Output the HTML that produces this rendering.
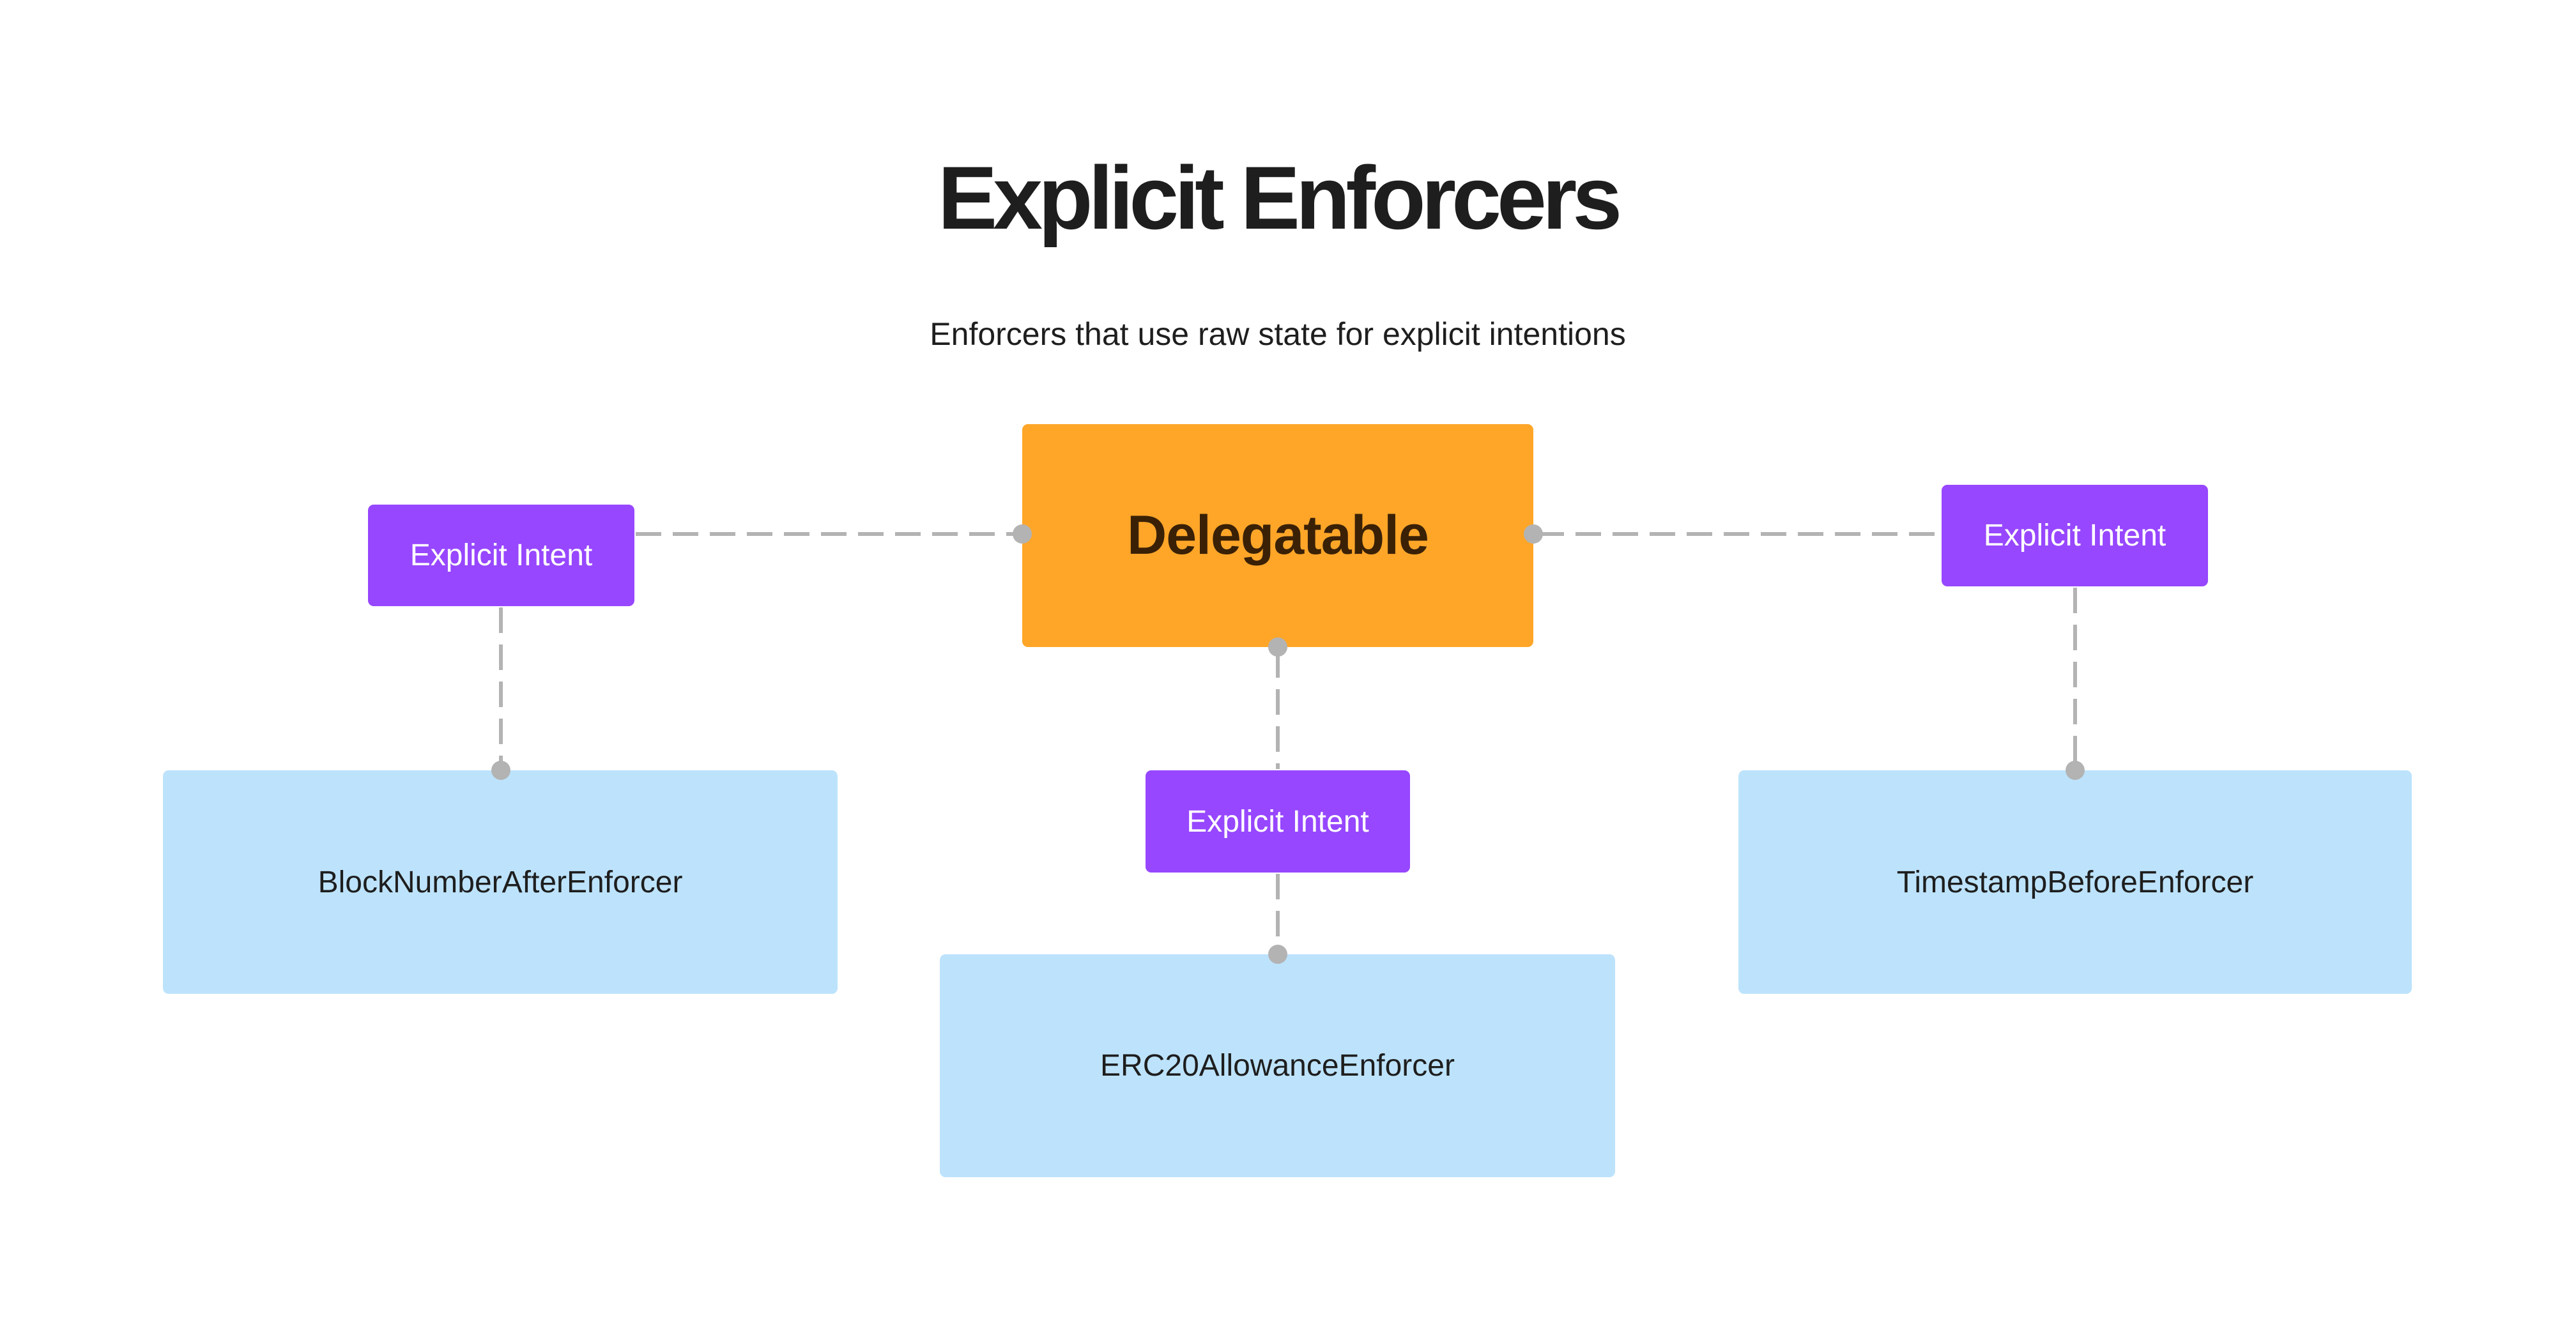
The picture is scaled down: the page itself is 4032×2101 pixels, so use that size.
<!DOCTYPE html>
<html><head><meta charset="utf-8"><style>
html,body{margin:0;padding:0;background:#fff;}
body{width:4032px;height:2101px;position:relative;overflow:hidden;font-family:"Liberation Sans",sans-serif;}
.b{position:absolute;display:flex;align-items:center;justify-content:center;border-radius:9px;}
.p{background:#9747ff;color:#fff;font-size:48px;}
.l{background:#bde3fc;color:#1e1e1e;font-size:48px;}
</style></head><body>
<div style="position:absolute;left:0;width:4000px;top:225px;text-align:center;font-size:140px;font-weight:bold;color:#1e1e1e;letter-spacing:-7px;line-height:170px;">Explicit Enforcers</div>
<div style="position:absolute;left:0;width:4000px;top:493px;text-align:center;font-size:50px;color:#1e1e1e;line-height:60px;">Enforcers that use raw state for explicit intentions</div>
<div class="b" style="left:1600px;top:664px;width:800px;height:349px;background:#ffa629;color:#3a2106;font-size:86px;font-weight:bold;letter-spacing:-1px;">Delegatable</div>
<div class="b p" style="left:576px;top:790px;width:417px;height:159px;">Explicit Intent</div>
<div class="b p" style="left:3039px;top:759px;width:417px;height:159px;">Explicit Intent</div>
<div class="b p" style="left:1793px;top:1206px;width:414px;height:160px;">Explicit Intent</div>
<div class="b l" style="left:255px;top:1206px;width:1056px;height:350px;">BlockNumberAfterEnforcer</div>
<div class="b l" style="left:1471px;top:1494px;width:1057px;height:349px;">ERC20AllowanceEnforcer</div>
<div class="b l" style="left:2721px;top:1206px;width:1054px;height:350px;">TimestampBeforeEnforcer</div>
<svg width="4032" height="2101" style="position:absolute;left:0;top:0">
<g stroke="#b3b3b3" stroke-width="6" stroke-dasharray="40 18" fill="none">
<line x1="995" y1="836" x2="1592" y2="836"/>
<line x1="2408" y1="836" x2="3037" y2="836"/>
<line x1="784" y1="951" x2="784" y2="1199"/>
<line x1="2000" y1="1021" x2="2000" y2="1204"/>
<line x1="2000" y1="1368" x2="2000" y2="1487"/>
<line x1="3248" y1="920" x2="3248" y2="1199"/>
</g>
<g fill="#b3b3b3">
<circle cx="1600" cy="836" r="15"/>
<circle cx="2400" cy="836" r="15"/>
<circle cx="784" cy="1206" r="15"/>
<circle cx="2000" cy="1013" r="15"/>
<circle cx="2000" cy="1494" r="15"/>
<circle cx="3248" cy="1206" r="15"/>
</g>
</svg>
</body></html>
